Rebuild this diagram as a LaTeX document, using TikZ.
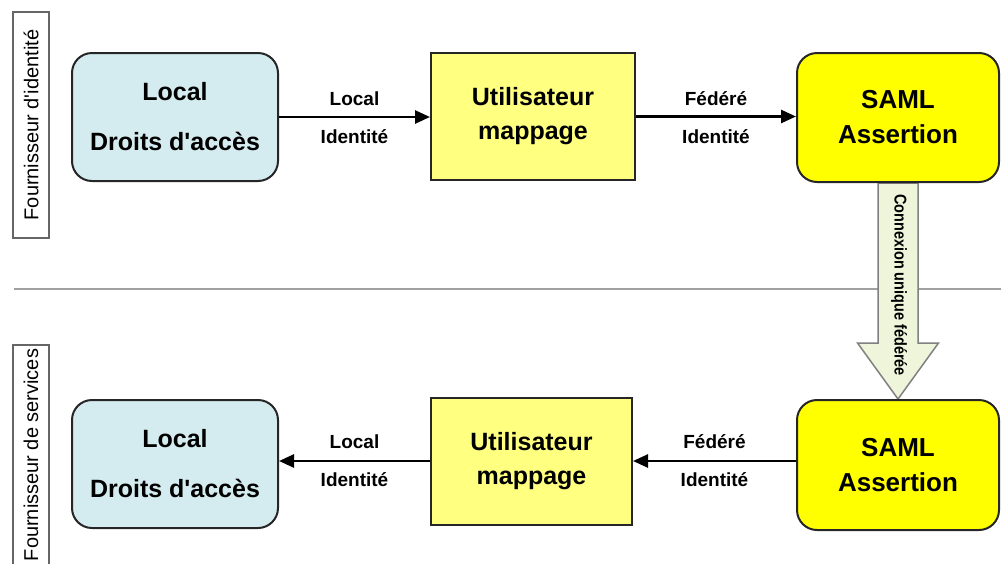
\documentclass[tikz,border=0pt]{standalone}
\usepackage{fontspec}
\setmainfont{Liberation Sans}
\usetikzlibrary{arrows.meta,backgrounds}
\definecolor{rightsblue}{HTML}{D4ECEF}
\definecolor{mapyellow}{HTML}{FFFF80}
\definecolor{samlyellow}{HTML}{FFFF00}
\definecolor{ssofill}{HTML}{EEF5DA}
\definecolor{ssoedge}{HTML}{808080}
\definecolor{sepgray}{HTML}{A0A0A0}
\newcommand{\apos}{\textquotesingle}

\begin{document}
\begin{tikzpicture}[x=1pt,y=-1pt,
  box/.style={draw=black!85, line width=2pt, align=center, inner sep=0pt},
  rights/.style={box, fill=rightsblue, rounded corners=20pt,
    minimum width=206pt, minimum height=128pt,
    font=\bfseries\fontsize{25}{50}\selectfont},
  mapping/.style={box, fill=mapyellow, minimum width=204pt, minimum height=127pt,
    font=\bfseries\fontsize{25}{34}\selectfont},
  saml/.style={box, fill=samlyellow, rounded corners=20pt,
    minimum width=202pt, minimum height=129pt,
    font=\bfseries\fontsize{26}{35}\selectfont},
  flow/.style={line width=2.6pt, -{Triangle[length=15pt,width=13pt]}},
  flowlabel/.style={font=\bfseries\fontsize{19}{23}\selectfont, inner sep=0pt},
  party/.style={draw=black!60, line width=1.3pt, rotate=90,
    minimum height=36pt, inner sep=0pt,
    font=\fontsize{20}{24}\selectfont}
]
\useasboundingbox (0,0) rectangle (1001,563);

% party labels on the left
\node[party, minimum width=226pt] (idp) at (31,125) {Fournisseur d\apos identité};
\node[party, minimum width=220pt] (sp)  at (31,455) {Fournisseur de services};

% identity provider row
\node[rights]  (tl) at (175,117)   {Local\\Droits d\apos accès};
\node[mapping] (tm) at (533,116.5) {Utilisateur\\mappage};
\node[saml]    (tr) at (898,117.5) {SAML\\Assertion};

% service provider row
\node[rights]  (bl) at (175,464)   {Local\\Droits d\apos accès};
\node[mapping, minimum width=201pt] (bm) at (531.5,461) {Utilisateur\\mappage};
\node[saml, minimum height=130pt]   (br) at (898,465)   {SAML\\Assertion};

% flows, top row (left to right)
\draw[flow] (tl.east) -- (tl.east -| tm.west)
  node[flowlabel, midway, yshift=18pt] {Local}
  node[flowlabel, midway, yshift=-20pt] {Identité};
\draw[flow] (tm.east) -- (tm.east -| tr.west)
  node[flowlabel, midway, yshift=18pt] {Fédéré}
  node[flowlabel, midway, yshift=-20pt] {Identité};

% flows, bottom row (right to left)
\draw[flow] (bm.west) -- (bm.west -| bl.east)
  node[flowlabel, midway, yshift=19pt] {Local}
  node[flowlabel, midway, yshift=-19pt] {Identité};
\draw[flow] (bm.east -| br.west) -- (bm.east)
  node[flowlabel, midway, yshift=19pt] {Fédéré}
  node[flowlabel, midway, yshift=-19pt] {Identité};

\begin{pgfonlayer}{background}
  % boundary between the two parties
  \coordinate (sepL) at (14,289);
  \coordinate (sepR) at (1001,289);
  \draw[sepgray, line width=2.5pt] (sepL) -- (sepR);
  % federated single sign-on arrow
  \draw[fill=ssofill, draw=ssoedge, line width=1.5pt, line join=miter]
    ([xshift=-20pt]tr.south) -- ([xshift=-20pt]tr.south |- 0,343)
    -- ([xshift=-40.5pt]tr.south |- 0,343) -- (br.north)
    -- ([xshift=40.5pt]tr.south |- 0,343) -- ([xshift=20pt]tr.south |- 0,343)
    -- ([xshift=20pt]tr.south) -- cycle;
  \node[rotate=-90, inner sep=0pt, font=\bfseries\fontsize{17}{20}\selectfont]
    (sso) at (899,285) {\scalebox{0.85}[1]{Connexion unique fédérée}};
\end{pgfonlayer}
\end{tikzpicture}
\end{document}
